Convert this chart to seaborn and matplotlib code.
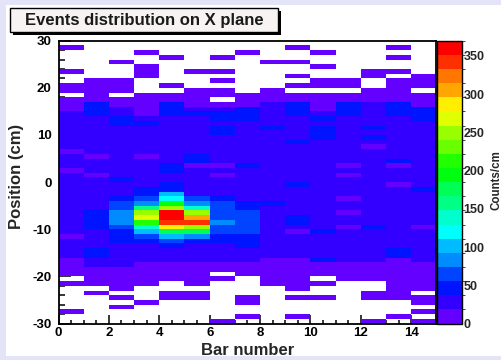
import colorsys

import numpy as np
import pandas as pd
import matplotlib
matplotlib.use("Agg")
import matplotlib.pyplot as plt
from matplotlib.colors import ListedColormap, BoundaryNorm
from matplotlib.patches import Rectangle
import seaborn as sns

# ---------------------------------------------------------------------------
# Data: 15 bars (x bins of width 1) and 60 position bins of 1 cm (+30 .. -30)
# ---------------------------------------------------------------------------
bar_numbers = list(range(15))
position_top = 30
position_bottom = -30

# Contour level of every position bin, one string per bar, read from the
# top bin (+29.5 cm) down to the bottom bin (-29.5 cm).
# '.' = empty bin, '0'-'9' and 'a'-'j' = contour levels 0 .. 19
bar_levels = [
    ".0....0..0" "0.00011111" "1110111011" "1111111111" "1011110000" ".0.....0..",
    "........00" "0002221111" "1111011101" "1111112222" "1111221100" "00.0......",
    "....0...00" "0.00112211" "1111111112" "1112334443" "2221111100" "000.0.0...",
    "..0..000.." ".000001211" "1111011111" "122348deb7" "5321111000" "00...0....",
    "...0.....0" ".002221111" "1111112211" "2256adjjif" "9532111000" "0..00.....",
    "......0..." "0000121111" "1111220111" "111347dgid" "9421111000" "00.00.....",
    "...0..0.0." "00.0122122" "1111110101" "1112333343" "322111100." "0........0",
    "..0......." ".000222111" "1111112111" "1111223333" "3222111000" "....00..0.",
    "....0....." "0001111121" "1111111111" "1111211111" "1111110000" "00........",
    ".0..0..0.0" ".002221111" "1211111111" "2111111221" "0111110000" "000.0...0.",
    "..0..0..00" ".000012122" "2111111111" "1111111111" "2111112000" ".0..0.....",
    "........00" ".002221111" "1111110101" "1110110110" "1111111000" "0.........",
    "......00.." "0001111121" "2101111111" "1111111112" "1111111000" "0..00....0",
    ".0.0..0.00" "0002221111" "1111120111" "0111111111" "1111220000" "00000...0.",
    ".......000" ".000222111" "1111111111" "1211111110" "1111111000" "000.00.0.0",
]

n_contours = 20
z_max = 370.0
counts_per_level = z_max / n_contours
cbar_ticks = [0, 50, 100, 150, 200, 250, 300, 350]

x_major = [0, 2, 4, 6, 8, 10, 12, 14]
y_major = [30, 20, 10, 0, -10, -20, -30]


def decode(levels):
    return [np.nan if c == "." else (int(c, 36) + 0.5) * counts_per_level
            for c in levels]


counts = np.array([decode(s) for s in bar_levels]).T
position_centers = np.arange(position_top - 0.5, position_bottom, -1.0)
table = pd.DataFrame(counts, index=position_centers, columns=bar_numbers)

# ---------------------------------------------------------------------------
# ROOT "pretty" palette (HLS hue 280 -> 0) sampled on 20 contours
# ---------------------------------------------------------------------------
palette = []
for i in range(49):
    hue = 280.0 - (i + 1) * 280.0 / 50.0
    palette.append(colorsys.hls_to_rgb(hue / 360.0, 0.5, 1.0))
palette.append((1.0, 0.0, 0.0))
contour_colors = [palette[int((j + 0.99) * len(palette) / n_contours)]
                  for j in range(n_contours)]
cmap = ListedColormap(contour_colors)
norm = BoundaryNorm(np.linspace(0, z_max, n_contours + 1), n_contours)

# ---------------------------------------------------------------------------
# Figure
# ---------------------------------------------------------------------------
sns.set_style("white")
plt.rcParams["font.family"] = ["Liberation Sans", "DejaVu Sans"]
plt.rcParams["font.weight"] = "bold"

W, H = 501.0, 360.0
fig = plt.figure(figsize=(W / 100, H / 100), dpi=100)
fig.patch.set_facecolor("#e4e4f8")
fig.add_artist(Rectangle((6 / W, 4 / H), 1 - 6 / W, 1 - 9 / H,
                         transform=fig.transFigure, fc="white", ec="none",
                         zorder=-5))

ax = fig.add_axes([58.5 / W, 36.5 / H, 378 / W, 282.8 / H])
cax = fig.add_axes([437 / W, 36.5 / H, 25 / W, 282.8 / H])

sns.heatmap(table, ax=ax, cbar_ax=cax, cmap=cmap, norm=norm,
            mask=table.isna(), linewidths=0,
            xticklabels=False, yticklabels=False)

for spine in ax.spines.values():
    spine.set_visible(True)
    spine.set_color("black")
    spine.set_linewidth(1.3)

n_rows = len(position_centers)
ax.set_xticks(x_major)
ax.set_xticklabels([str(v) for v in x_major])
ax.set_xticks(np.arange(0, len(bar_numbers) + 0.01, 0.5), minor=True)
ax.set_yticks([position_top - v for v in y_major])
ax.set_yticklabels([str(v) for v in y_major])
ax.set_yticks(np.arange(0, n_rows + 1, 2), minor=True)

ax.tick_params(axis="both", which="both", direction="in", color="black",
               width=1.1, labelsize=9.5, labelcolor="black")
ax.tick_params(axis="x", which="major", length=6.2, pad=2.5)
ax.tick_params(axis="x", which="minor", length=3.0)
ax.tick_params(axis="y", which="major", length=8.6, pad=5)
ax.tick_params(axis="y", which="minor", length=4.3)
ax.tick_params(axis="x", which="both", top=False, bottom=True)
ax.tick_params(axis="y", which="both", left=True, right=False)
for lab in ax.get_xticklabels() + ax.get_yticklabels():
    lab.set_fontweight("bold")

ax.set_xlabel("Bar number", fontsize=12, fontweight="bold")
ax.xaxis.set_label_coords(0.5, -0.095)
ax.xaxis.label.set_va("center")
ax.set_ylabel("Position (cm)", fontsize=12, fontweight="bold")
ax.yaxis.set_label_coords(-0.11, 0.52)
ax.yaxis.label.set_va("center")

cbar = ax.collections[0].colorbar
cbar.set_ticks(cbar_ticks)
cbar.set_ticklabels([str(t) for t in cbar_ticks])
cbar.ax.yaxis.set_ticks_position("right")
cbar.ax.tick_params(direction="in", length=9.5, width=1.1, color="black",
                    labelsize=9, pad=1)
for lab in cbar.ax.get_yticklabels():
    lab.set_fontweight("bold")
cbar.outline.set_edgecolor("black")
cbar.outline.set_linewidth(1.0)
fig.text(496 / W, 0.5, "Counts/cm", rotation=90, ha="center", va="center",
         fontsize=8.3, fontweight="bold")

# Title box with drop shadow
fig.add_artist(Rectangle((13 / W, 1 - 35 / H), 268 / W, 24 / H,
                         transform=fig.transFigure, fc="black", ec="none"))
fig.add_artist(Rectangle((10 / W, 1 - 32 / H), 268 / W, 24 / H,
                         transform=fig.transFigure, fc="#f7f3f3",
                         ec="black", lw=1.0))
fig.text(144 / W, 1 - 20 / H, "Events distribution on X plane",
         ha="center", va="center", fontsize=12, fontweight="bold",
         color="#1a1a1a")

# Axis title of the pad above, mostly outside the canvas
fig.text(263 / W, 1 - 3 / H, "Bar number", ha="center", va="bottom",
         fontsize=12, fontweight="bold", color="#333333")

fig.savefig("out.png", dpi=100, facecolor=fig.get_facecolor())
